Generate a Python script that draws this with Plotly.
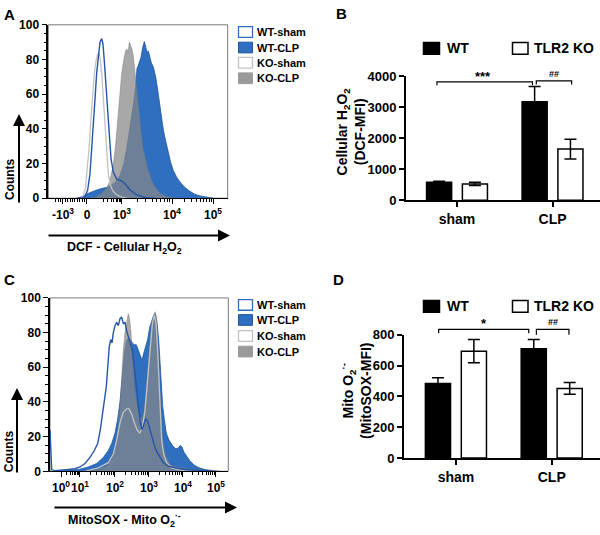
import numpy as np
import plotly.graph_objects as go

W, H = 600, 535
FONT = "Liberation Sans, Arial, Helvetica, sans-serif"

# ---------------- Panel A : DCF histograms (display channel vs % of max) ----------------
A_WT_SHAM_X = [100,112,120,128,135,140,145,150,155,160,165,170,174,178,183,188,193,198,205,215,230,240,255,275,300,330]
A_WT_SHAM_Y = [0,0.3,1,4.7,14,27,42,57,72,83,90,92,89,79,64,50,35,23,15,11,10,8.4,4.7,1.9,0.4,0]

A_KO_SHAM_X = [105,115,122,128,133,138,143,148,153,158,162,166,170,174,178,182,186,190,195,202,212,225,245]
A_KO_SHAM_Y = [0,1,6.5,18,31,46,61,72,79,83,83.5,80,72,59,46,33,21.5,14,8.4,4.7,2.4,0.9,0]

A_KO_CLP_X = [140,155,170,185,195,205,212,218,224,230,236,242,246,249,253,257,261,265,270,275,280,286,292,300,310,320,330,345,365,390]
A_KO_CLP_Y = [0,0.9,2.8,5.6,10.3,19.3,31,45.8,60.7,71.9,79.4,85,86,84,90,88,86,82,73,63,53,41,31,23.4,15.9,10.3,6.5,2.8,0.9,0]

A_WT_CLP_X = [95,110,125,140,155,170,185,198,212,225,236,244,252,260,266,272,276,280,284,288,293,298,302,306,310,314,319,325,332,338,343,348,353,358,364,370,377,385,395,405,418,432,448,465,485,505]
A_WT_CLP_Y = [0,0.9,2.4,3.7,4.7,5.6,6.2,7.5,9.3,13.1,19.6,27.1,36.4,45.8,55,64.5,74.8,76.6,79.4,81.3,86.9,90.3,87.5,84,85,82,78,75.7,70,62.6,55,47.7,42,36.4,30.8,25.2,20.6,15.9,12.1,9.3,6.5,4.3,2.4,1.3,0.6,0]

A_TICK_POS = [54, 126, 231, 381, 504]
A_TICK_TEXT = ["-10<sup>3</sup>", "0", "10<sup>3</sup>", "10<sup>4</sup>", "10<sup>5</sup>"]
A_DECADE_POS = [150, 231, 381, 504]          # 10^2 .. 10^5 on the display scale
A_NEG_ZERO, A_NEG_STEP = 126, 7.2              # linear part of the scale

# ---------------- Panel C : MitoSOX histograms ----------------
C_WT_SHAM_X = [15,17,20,30,50,70,90,105,120,135,148,158,166,172,178,184,189,193,197,201,205,210,215,220,225,230,235,240,245,250,255,262,268,274,280,286,291,296,302,308,314,320,328,336,345,355,370,390,420,460,500]
C_WT_SHAM_Y = [24,8,1,0.3,0.5,1,1.5,2.5,4.5,8,12,16,24,33,40,49,62,72,76,74,80,84,86,84,88,89,85,86,81,78,75,70,60,50,38,28,24,27,30,29,25,20,15,11,8,5,3,2,1,0.5,0]

C_KO_SHAM_X = [120,160,190,205,215,225,235,245,252,260,268,276,284,292,300,308,315,322,328,333,338,342,346,350,356,365,380,410,450]
C_KO_SHAM_Y = [0,2,5,10,18,28,34,36,36,33,28,24,22,25,35,55,72,85,90,86,70,50,30,18,10,5,2,0.5,0]

C_KO_CLP_X = [130,160,185,200,212,220,226,230,235,240,245,250,254,258,263,268,275,282,290,298,305,312,318,324,330,335,339,343,347,352,358,366,376,390,420,460,500,530]
C_KO_CLP_Y = [0,1,3,7,15,25,40,55,70,80,86,91,88,80,65,50,40,33,30,35,50,68,80,86,92,88,75,55,35,20,12,7,4,2.5,1.5,1,0.3,0]

C_WT_CLP_X = [40,70,100,130,155,175,190,200,210,218,225,232,238,244,250,256,262,268,274,280,286,291,296,302,308,314,320,326,331,336,341,345,349,353,358,364,372,382,392,400,406,411,417,425,435,448,462,480,500,520]
C_WT_CLP_Y = [0,0.5,1,2.5,4.5,8,12,16,22,30,40,55,68,75,77,76,74,73,73,70,66,64,68,72,76,83,87,90,91,86,76,62,48,38,30,22,18,15,13,13.5,15,14,11,8.5,6,3.5,2,1,0.4,0]

C_TICK_POS = [48, 105, 210, 312, 414, 513]
C_TICK_TEXT = ["10<sup>0</sup>", "10<sup>1</sup>", "10<sup>2</sup>", "10<sup>3</sup>", "10<sup>4</sup>", "10<sup>5</sup>"]

HIST_NAMES = ["WT-sham", "WT-CLP", "KO-sham", "KO-CLP"]

# ---------------- Panels B and D : bar charts ----------------
GROUPS = ["sham", "CLP"]
B_WT = [576, 3170]
B_WT_ERR = [35, 490]
B_KO = [523, 1645]
B_KO_ERR = [55, 320]

D_WT = [484, 709]
D_WT_ERR = [38, 61]
D_KO = [694, 452]
D_KO_ERR = [75, 38]

BAR_NAMES = ["WT", "TLR2 KO"]

# ---------------- colours ----------------
BLUE = "#2f6fc0"
BLUE_DARK = "#1f56a0"
WT_SHAM_LINE = "#2556a8"
KO_SHAM_LINE = "#c2c2c2"
GRAY_FILL = "rgba(135,135,135,0.72)"
GRAY_LINE = "rgba(120,120,120,0.8)"


def px(x):
    return x / W


def py(y):
    return 1 - y / H


def log_minors(decades):
    out = []
    for lo, hi in zip(decades[:-1], decades[1:]):
        for k in range(2, 10):
            out.append(lo + (hi - lo) * np.log10(k))
    return out


A_MINOR = log_minors(A_DECADE_POS) + [A_NEG_ZERO - A_NEG_STEP * k for k in range(1, 14) if k != 10]
C_MINOR = log_minors(C_TICK_POS)

fig = go.Figure()


def add_hists(xs, ys, xa, ya):
    (wsx, wsy), (wcx, wcy), (ksx, ksy), (kcx, kcy) = zip(xs, ys)
    fig.add_trace(go.Scatter(x=wcx, y=wcy, name=HIST_NAMES[1], mode="lines", fill="tozeroy",
                             fillcolor=BLUE, line=dict(color=BLUE_DARK, width=0.8),
                             xaxis=xa, yaxis=ya, showlegend=False))
    fig.add_trace(go.Scatter(x=kcx, y=kcy, name=HIST_NAMES[3], mode="lines", fill="tozeroy",
                             fillcolor=GRAY_FILL, line=dict(color=GRAY_LINE, width=0.6),
                             xaxis=xa, yaxis=ya, showlegend=False))
    fig.add_trace(go.Scatter(x=ksx, y=ksy, name=HIST_NAMES[2], mode="lines",
                             line=dict(color=KO_SHAM_LINE, width=1.3),
                             xaxis=xa, yaxis=ya, showlegend=False))
    fig.add_trace(go.Scatter(x=wsx, y=wsy, name=HIST_NAMES[0], mode="lines",
                             line=dict(color=WT_SHAM_LINE, width=1.4),
                             xaxis=xa, yaxis=ya, showlegend=False))


add_hists([A_WT_SHAM_X, A_WT_CLP_X, A_KO_SHAM_X, A_KO_CLP_X],
          [A_WT_SHAM_Y, A_WT_CLP_Y, A_KO_SHAM_Y, A_KO_CLP_Y], "x", "y")
add_hists([C_WT_SHAM_X, C_WT_CLP_X, C_KO_SHAM_X, C_KO_CLP_X],
          [C_WT_SHAM_Y, C_WT_CLP_Y, C_KO_SHAM_Y, C_KO_CLP_Y], "x3", "y3")


def add_bars(wt, wt_err, ko, ko_err, xa, ya):
    fig.add_trace(go.Bar(x=GROUPS, y=wt, name=BAR_NAMES[0], xaxis=xa, yaxis=ya,
                         marker=dict(color="black", line=dict(color="black", width=1.5)),
                         error_y=dict(type="data", array=wt_err, color="black", thickness=1.5, width=6),
                         showlegend=False))
    fig.add_trace(go.Bar(x=GROUPS, y=ko, name=BAR_NAMES[1], xaxis=xa, yaxis=ya,
                         marker=dict(color="white", line=dict(color="black", width=1.5)),
                         error_y=dict(type="data", array=ko_err, color="black", thickness=1.5, width=6),
                         showlegend=False))


add_bars(B_WT, B_WT_ERR, B_KO, B_KO_ERR, "x2", "y2")
add_bars(D_WT, D_WT_ERR, D_KO, D_KO_ERR, "x4", "y4")

tickfont12 = dict(family=FONT, size=12, color="black", weight="bold")
tickfont13 = dict(family=FONT, size=13, color="black", weight="bold")
tickfont14 = dict(family=FONT, size=14, color="black", weight="bold")

hist_x_common = dict(showgrid=False, zeroline=False, showline=True, linecolor="black", linewidth=1.3,
                     ticks="outside", ticklen=5, tickwidth=1.3, tickcolor="black", tickmode="array",
                     tickangle=0, tickfont=tickfont12)
hist_y_common = dict(showgrid=False, zeroline=False, showline=True, linecolor="black", linewidth=1.5,
                     ticks="outside", ticklen=5, tickwidth=1.3, tickcolor="black", range=[0, 100],
                     dtick=20, tickfont=tickfont12,
                     minor=dict(dtick=5, ticklen=3, tickwidth=1, tickcolor="black", ticks="outside"))
bar_x_common = dict(showgrid=False, zeroline=False, showline=True, linecolor="black", linewidth=1.8,
                    ticks="outside", ticklen=5, tickwidth=1.5, tickcolor="black", type="category",
                    tickangle=0, tickfont=tickfont14)
bar_y_common = dict(showgrid=False, zeroline=False, showline=True, linecolor="black", linewidth=1.8,
                    ticks="outside", ticklen=5, tickwidth=1.5, tickcolor="black", tickfont=tickfont13)

fig.update_layout(
    width=W, height=H, autosize=False,
    margin=dict(l=0, r=0, t=0, b=0),
    paper_bgcolor="white", plot_bgcolor="white",
    font=dict(family=FONT, size=12, color="black", weight="bold"),
    barmode="group", bargap=0.25, bargroupgap=0.3,
    showlegend=False,
    xaxis=dict(domain=[px(48.3), px(227.7)], range=[10, 548], anchor="y",
               tickvals=A_TICK_POS, ticktext=A_TICK_TEXT,
               minor=dict(tickmode="array", tickvals=A_MINOR, ticklen=3, tickwidth=1,
                          tickcolor="black", ticks="outside"),
               **hist_x_common),
    yaxis=dict(domain=[py(196.7), py(18.3)], anchor="x", **hist_y_common),
    xaxis3=dict(domain=[px(50), px(228.3)], range=[15, 550], anchor="y3",
                tickvals=C_TICK_POS, ticktext=C_TICK_TEXT,
                minor=dict(tickmode="array", tickvals=C_MINOR, ticklen=3, tickwidth=1,
                           tickcolor="black", ticks="outside"),
                **hist_x_common),
    yaxis3=dict(domain=[py(477.7), py(299.3)], anchor="x3", **hist_y_common),
    xaxis2=dict(domain=[px(406), 1.0], range=[-0.534, 1.497], anchor="y2", **bar_x_common),
    yaxis2=dict(domain=[py(198.7), py(71)], range=[0, 4000], dtick=1000, anchor="x2", **bar_y_common),
    xaxis4=dict(domain=[px(404), 1.0], range=[-0.542, 1.504], anchor="y4", **bar_x_common),
    yaxis4=dict(domain=[py(464), py(337.3)], range=[0, 800], dtick=200, anchor="x4", **bar_y_common),
)

shapes = []
annotations = []

# frames around histogram plots
for xa, ya in (("x", "y"), ("x3", "y3")):
    shapes.append(dict(type="rect", xref=f"{xa} domain", yref=f"{ya} domain", x0=0, x1=1, y0=0, y1=1,
                       line=dict(color="#7a7a7a", width=1), layer="below"))


def bracket(xa, ya, x0, x1, y, ytick):
    shapes.append(dict(type="path", xref=xa, yref=f"{ya} domain",
                       path=f"M{x0},{ytick} L{x0},{y} L{x1},{y} L{x1},{ytick}",
                       line=dict(color="black", width=1.2)))


def text(t, x, y, size, xref="paper", yref="paper", xanchor="center", yanchor="middle", angle=0):
    annotations.append(dict(text=t, x=x, y=y, xref=xref, yref=yref, xanchor=xanchor, yanchor=yanchor,
                            showarrow=False, textangle=angle,
                            font=dict(family=FONT, size=size, color="black", weight="bold")))


def arrow(x_head, y_head, ax, ay):
    annotations.append(dict(text="", x=px(x_head), y=py(y_head), xref="paper", yref="paper",
                            ax=ax, ay=ay, showarrow=True, arrowhead=2, arrowsize=1.2,
                            arrowwidth=2, arrowcolor="black", standoff=0))


# significance brackets
bracket("x2", "y2", -0.21, 0.79, 0.953, 0.925)
bracket("x2", "y2", 0.83, 1.20, 0.960, 0.932)
text("***", 0.272, 1.0, 13, xref="x2", yref="y2 domain")
text("##", 1.016, 1.016, 9, xref="x2", yref="y2 domain")
bracket("x4", "y4", -0.18, 0.76, 1.044, 1.013)
bracket("x4", "y4", 0.84, 1.18, 1.044, 1.0)
text("*", 0.296, 1.089, 13, xref="x4", yref="y4 domain")
text("##", 1.013, 1.105, 9, xref="x4", yref="y4 domain")

# panel letters
text("A", px(9), py(8), 15)
text("B", px(342), py(7), 15)
text("C", px(9), py(280), 15)
text("D", px(339), py(280), 15)

# histogram axis titles and arrows
text("Counts", px(10), py(177), 12, angle=-90)
text("Counts", px(9), py(457), 12, angle=-90)
arrow(19, 110, 0, 90)
arrow(17, 392, 0, 86)
arrow(230, 235, -183, 0)
arrow(237, 515, -184, 0)
text("DCF - Cellular H<sub>2</sub>O<sub>2</sub>", px(124), py(248), 12.5)
text("MitoSOX - Mito O<sub>2</sub><sup>·-</sup>", px(124), py(528), 12.5)

# bar chart y titles
text("Cellular H<sub>2</sub>O<sub>2</sub><br>(DCF-MFI)", px(351), py(128), 14, angle=-90)
text("Mito O<sub>2</sub><sup>·-</sup><br>(MitoSOX-MFI)", px(356), py(395), 14, angle=-90)

# histogram legends
hist_box_style = [
    dict(fillcolor="white", line=dict(color=BLUE, width=1.3)),
    dict(fillcolor=BLUE, line=dict(color=BLUE_DARK, width=1)),
    dict(fillcolor="white", line=dict(color=KO_SHAM_LINE, width=1.3)),
    dict(fillcolor="#9a9a9a", line=dict(color="#9a9a9a", width=1)),
]
for rows in ([25.7, 41.7, 57.3, 73.3], [306.5, 322, 338.5, 354.5]):
    for name, yc, st in zip(HIST_NAMES, rows, hist_box_style):
        shapes.append(dict(type="rect", xref="paper", yref="paper", x0=px(238.5), x1=px(252.5),
                           y0=py(yc + 5.5), y1=py(yc - 5.5), **st))
        text(name, px(255), py(yc), 11, xanchor="left")

# bar legends
for yc in (42.5, 308):
    shapes.append(dict(type="rect", xref="paper", yref="paper", x0=px(423.5), x1=px(439.5),
                       y0=py(yc + 6), y1=py(yc - 6), fillcolor="black", line=dict(color="black", width=1.5)))
    shapes.append(dict(type="rect", xref="paper", yref="paper", x0=px(512.5), x1=px(528),
                       y0=py(yc + 6), y1=py(yc - 6), fillcolor="white", line=dict(color="black", width=1.5)))
    text(BAR_NAMES[0], px(444.5), py(yc), 14, xanchor="left")
    text(BAR_NAMES[1], px(531.5), py(yc), 14, xanchor="left")

fig.update_layout(shapes=shapes, annotations=annotations)
fig.write_html("out.html",
               config={"displayModeBar": False},
               post_script="document.body.style.margin='0';document.body.style.overflow='hidden';")
